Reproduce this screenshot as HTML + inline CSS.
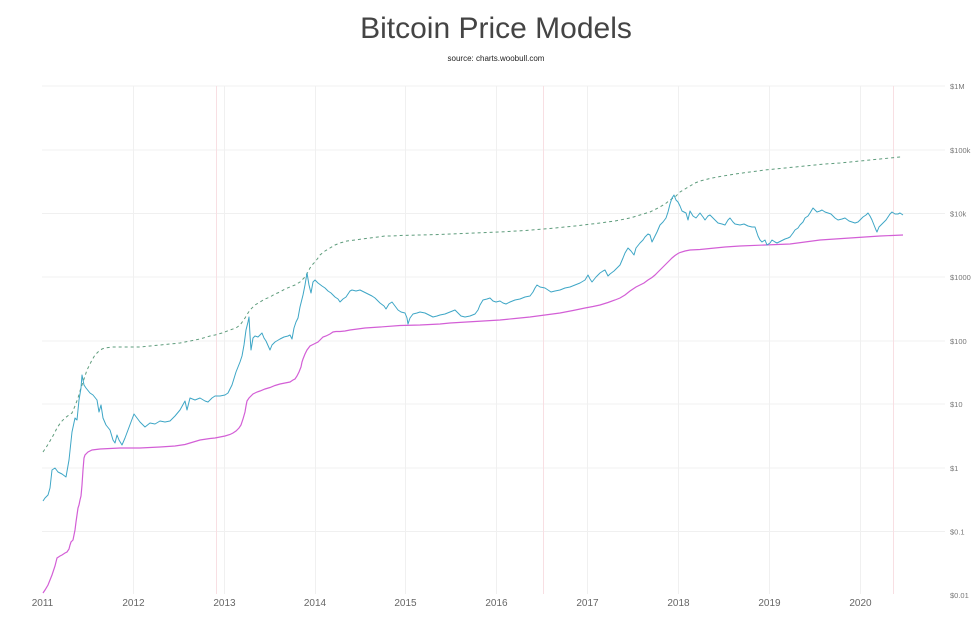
<!DOCTYPE html>
<html><head><meta charset="utf-8"><style>
html,body{margin:0;padding:0;background:#fff;}
svg{display:block;}
text{font-family:"Liberation Sans",sans-serif;}
</style></head><body>
<svg width="980" height="632" viewBox="0 0 980 632" xmlns="http://www.w3.org/2000/svg">
<rect width="980" height="632" fill="#fff"/>
<text x="496" y="38" font-size="30" fill="#444" text-anchor="middle">Bitcoin Price Models</text>
<text x="496" y="61" font-size="8" fill="#222" text-anchor="middle">source: charts.woobull.com</text>
<g stroke="#f0f0f0" stroke-width="1">
<line x1="42" y1="86" x2="945" y2="86"/>
<line x1="42" y1="150" x2="945" y2="150"/>
<line x1="42" y1="213.5" x2="945" y2="213.5"/>
<line x1="42" y1="277" x2="945" y2="277"/>
<line x1="42" y1="341" x2="945" y2="341"/>
<line x1="42" y1="404" x2="945" y2="404"/>
<line x1="42" y1="468" x2="945" y2="468"/>
<line x1="42" y1="531.5" x2="945" y2="531.5"/>
<line x1="133.5" y1="86" x2="133.5" y2="594"/>
<line x1="224.5" y1="86" x2="224.5" y2="594"/>
<line x1="315.5" y1="86" x2="315.5" y2="594"/>
<line x1="405.5" y1="86" x2="405.5" y2="594"/>
<line x1="496.5" y1="86" x2="496.5" y2="594"/>
<line x1="587.5" y1="86" x2="587.5" y2="594"/>
<line x1="678.5" y1="86" x2="678.5" y2="594"/>
<line x1="769.5" y1="86" x2="769.5" y2="594"/>
<line x1="860.5" y1="86" x2="860.5" y2="594"/>
</g>
<g stroke="#f8dfe3" stroke-width="1">
<line x1="216.5" y1="86" x2="216.5" y2="594"/>
<line x1="543.5" y1="86" x2="543.5" y2="594"/>
<line x1="893.5" y1="86" x2="893.5" y2="594"/>
</g>
<g font-size="7.5" fill="#777">
<text x="950" y="89">$1M</text>
<text x="950" y="153">$100k</text>
<text x="950" y="216.5">$10k</text>
<text x="950" y="280">$1000</text>
<text x="950" y="344">$100</text>
<text x="950" y="407">$10</text>
<text x="950" y="471">$1</text>
<text x="950" y="534.5">$0.1</text>
<text x="950" y="598">$0.01</text>
</g>
<g font-size="10" fill="#666" text-anchor="middle">
<text x="42.5" y="606">2011</text>
<text x="133.5" y="606">2012</text>
<text x="224.5" y="606">2013</text>
<text x="315" y="606">2014</text>
<text x="405.5" y="606">2015</text>
<text x="496.5" y="606">2016</text>
<text x="587.5" y="606">2017</text>
<text x="678.5" y="606">2018</text>
<text x="769.5" y="606">2019</text>
<text x="860.5" y="606">2020</text>
</g>
<polyline fill="none" stroke="#5e9c7c" stroke-width="1" stroke-dasharray="3,3" points="43,452 47,446 50,441 54,434 57,428 61,422 65,418 69,415 72,413 75,406 78,398 80,391 82,385 85,376 87,370 90,364 92,360 95,355 98,352 102,349 105,348 112,347 120,347 130,347 140,347 150,346 160,345 170,344 180,343 190,341 200,339 210,336 215,335 222,333 230,330 236,328 240,325 243,321 245,318 248,313 250,310 255,305 260,302 265,299 270,297 275,294 280,292 285,289 290,287 295,285 300,282 303,279 305,277 308,272 310,268 313,264 315,262 318,258 320,255 325,251 330,248 335,245 340,243 347,241 355,240 362,239 370,238 378,237 385,236 392,236 400,235.5 420,235 440,234.5 450,234 475,233 500,232 525,230.5 550,228.5 575,226 600,223 615,221 630,218 640,215 650,212 658,208 665,204 670,200 675,197 680,192 685,189 690,186 695,183 700,181 710,178.5 720,176.5 735,174 750,172 765,170 780,168.5 795,167 810,165.5 825,164 840,163 855,161.5 870,160 885,158.5 900,157 902,157"/>
<polyline fill="none" stroke="#d35fd6" stroke-width="1.2" points="43,593 45,590 48,585 50,580 52,575 55,566 57,558 60,556 62,555 65,553 67,552 69,549 70,545 71,542 73,540 75,530 76,522 77,515 78,508 79,505 80,500 81,496 82,485 83,470 84,458 85,455 88,452 92,450 100,449 110,448.5 120,448 140,448 160,447 175,446 185,444.5 190,443 200,440 210,438.5 215,438 225,436 230,434.5 233,433 236,431 239,428 241,425 243,419 245,412 246,406 247,401 249,398 253,394 257,392 260,391 265,389 270,387.5 275,385.5 280,384 285,383 290,382 293,380 295,379 297,376 299,372 301,367 302,362 303,359 305,354 307,350 310,346 314,344 318,342 321,339 323,337 326,336 330,334 333,332 336,331.5 340,331.5 345,331 350,330 365,328 380,327 400,325.5 420,325 440,324 450,323 475,321.5 500,320 515,318.5 530,317 545,315 560,313 573,310.5 585,308 593,306.5 600,305 608,302.5 615,300 620,298 625,295 630,291 633,289 636,287 640,285 644,283 648,280 652,277.5 655,275 658,272 662,268 665,265 668,262 670,260 672,258 675,255.5 678,253.5 680,252.5 685,251 690,250 700,249.5 710,248.5 725,247 740,246 765,245 790,244 805,242 820,240 835,239 850,238 865,237 880,236 903,235"/>
<polyline fill="none" stroke="#3ea6c6" stroke-width="1" stroke-linejoin="round" points="43,501 45,498 48,495 50,488 52,470 55,468 58,472 62,474 66,477 69,460 72,432 75,418 77,420 79,400 81,388 82,375 84,385 86,388 90,393 93,395 97,400 99,412 101,405 103,418 106,425 110,430 113,440 115,443 117,435 119,440 122,445 125,438 128,430 131,422 134,414 137,418 140,422 145,427 150,423 155,424 160,421 165,422 170,421 175,416 180,410 185,401 187,410 190,398 195,400 200,398 205,401 208,402 212,398 215,396 220,396 225,395 228,393 232,385 236,372 240,362 242,356 244,345 246,330 248,322 249,317 250,335 251,350 253,338 255,336 258,337 262,333 264,338 266,341 270,350 272,345 275,342 280,339 284,337 288,336 290,335 292,339 294,328 296,322 298,318 300,307 303,295 305,285 307,273 309,285 311,293 313,282 315,280 318,283 322,286 325,288 328,291 331,293 335,297 338,299 340,302 343,299 346,297 350,291 352,290 356,291 360,290 364,292 368,294 372,296 375,298 380,303 384,306 386,309 389,304 392,302 395,306 398,310 401,312 405,313 407,318 408,324 410,318 413,314 417,313 420,312 425,313 429,315 433,317 437,316 440,315 445,314 450,312 455,310 458,313 461,316 465,317 470,316 475,314 478,310 480,305 483,300 487,299 490,298 493,301 496,302 500,301 503,303 506,304 510,302 515,300 520,299 525,297 530,296 533,292 535,288 537,285 540,287 545,288 548,290 551,292 555,291 560,290 565,288 570,287 575,285 580,283 585,280 588,275 590,279 592,282 596,277 600,273 603,271 605,270 608,276 610,274 614,271 617,268 620,265 623,258 625,253 628,248 631,251 634,255 636,248 640,243 643,240 645,237 648,234 650,235 652,242 655,236 657,232 660,225 663,222 666,218 668,212 670,204 672,198 674,195 676,200 678,202 680,206 682,211 684,212 686,213 688,220 690,211 693,216 696,218 700,213 703,217 705,220 708,216 710,215 714,219 718,223 722,224 725,225 728,220 730,218 733,222 735,224 740,225 744,224 748,226 752,227 755,227 758,236 760,240 762,242 765,240 767,245 770,243 772,240 775,242 777,243 781,241 785,239 788,238 790,237 793,233 795,230 798,228 800,225 803,222 805,218 808,216 810,213 813,208 815,210 817,212 820,211 822,210 825,212 828,213 831,214 835,218 838,220 842,219 845,218 849,221 852,222 855,223 858,222 861,219 863,217 866,215 868,213 870,216 872,220 874,225 876,230 877,232 879,227 881,225 883,223 886,220 888,217 890,214 892,212 895,214 898,214 900,213 903,215"/>
</svg>
</body></html>
